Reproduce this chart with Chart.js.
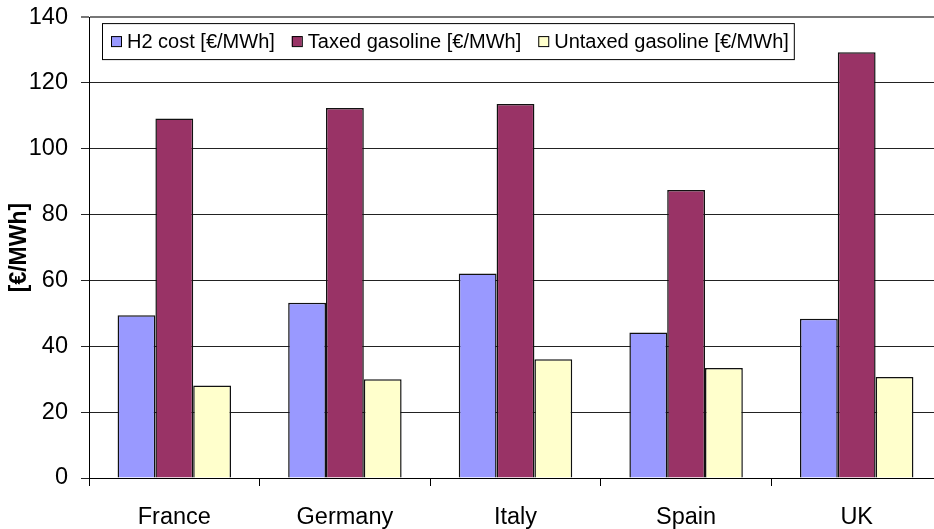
<!DOCTYPE html>
<html>
<head>
<meta charset="utf-8">
<script src="https://cdn.jsdelivr.net/npm/chart.js@4/dist/chart.umd.min.js"></script>
<style>
    html, body { margin: 0; padding: 0; background: #fff; overflow: hidden; }
    /* shifted up so the plot top sits where the original has it */
    #wrap { width: 942px; height: 539px; margin-top: -10px; position: relative; }
</style>
</head>
<body>
<div id="wrap"><canvas id="chartH2"></canvas></div>
<script>
const countries = ['France', 'Germany', 'Italy', 'Spain', 'UK'];
const h2Cost = [49.4, 53.2, 62.1, 44.2, 48.4];
const taxedGasoline = [109.2, 112.4, 113.6, 87.5, 129.3];
const untaxedGasoline = [28.1, 30.0, 36.1, 33.4, 30.7];
const seriesNames = ['H2 cost [€/MWh]', 'Taxed gasoline [€/MWh]', 'Untaxed gasoline [€/MWh]'];
const yTicks = [0, 20, 40, 60, 80, 100, 120, 140];

const colors = ['#9999ff', '#993366', '#ffffcc'];
const fontFamily = '"Liberation Sans", Arial, sans-serif';

// legend drawn inside the plot area, boxed like the original
const boxedLegend = {
    id: 'boxedLegend',
    afterDraw(chart) {
        const ctx = chart.ctx;
        const left = 102, top = chart.chartArea.top + 6, height = 36;
        const pad = 9, sw = 10, gap = 17;
        ctx.save();
        ctx.font = '20px ' + fontFamily;
        let width = pad;
        chart.data.datasets.forEach((ds, i) => {
            width += sw + 6 + ctx.measureText(ds.label).width + (i < chart.data.datasets.length - 1 ? gap : 0);
        });
        width += pad - 4;
        ctx.fillStyle = '#fff';
        ctx.fillRect(left, top, width, height);
        ctx.strokeStyle = '#000';
        ctx.lineWidth = 1;
        ctx.strokeRect(left + 0.5, top + 0.5, width, height);

        let x = left + pad;
        const cy = top + height / 2;
        ctx.textBaseline = 'middle';
        chart.data.datasets.forEach((ds) => {
            ctx.fillStyle = ds.backgroundColor;
            ctx.fillRect(x, cy - sw / 2, sw, sw);
            ctx.strokeStyle = '#000';
            ctx.strokeRect(x + 0.5, cy - sw / 2 + 0.5, sw, sw);
            ctx.fillStyle = '#000';
            ctx.fillText(ds.label, x + sw + 6, cy + 1);
            x += sw + 6 + ctx.measureText(ds.label).width + gap;
        });
        ctx.restore();
    }
};

const ctx = document.getElementById('chartH2').getContext('2d');

new Chart(ctx, {
    type: 'bar',
    data: {
        labels: countries,
        datasets: [h2Cost, taxedGasoline, untaxedGasoline].map((values, i) => ({
            label: seriesNames[i],
            data: values,
            backgroundColor: colors[i],
            borderColor: '#111',
            borderWidth: 1.5,
            categoryPercentage: 0.665,
            barPercentage: 1.0,
        })),
    },
    options: {
        responsive: true,
        maintainAspectRatio: false,
        animation: false,
        layout: { padding: { top: 8, right: 0, bottom: 0, left: 0 } },
        plugins: {
            legend: { display: false },
            tooltip: { enabled: false },
        },
        scales: {
            x: {
                grid: {
                    offset: true,
                    drawOnChartArea: false,
                    drawTicks: true,
                    tickLength: 8,
                    color: '#000',
                },
                border: { color: '#000', width: 1 },
                ticks: {
                    color: '#000',
                    padding: 17,
                    font: { family: fontFamily, size: 23.5 },
                },
                afterFit(scale) {
                    scale.height = 51;
                },
            },
            y: {
                min: 0,
                max: 140,
                afterBuildTicks(scale) {
                    scale.ticks = yTicks.map(v => ({ value: v }));
                },
                afterFit(scale) {
                    scale.width = 89;
                },
                grid: {
                    color: (c) => (c.tick && c.tick.value === 140 ? '#777' : '#222'),
                    lineWidth: (c) => (c.tick && c.tick.value === 140 ? 2 : 1),
                    tickLength: 8,
                },
                border: { color: '#000', width: 1 },
                ticks: {
                    color: '#000',
                    padding: 13,
                    font: { family: fontFamily, size: 23.5 },
                },
                title: {
                    display: true,
                    text: '[€/MWh]',
                    color: '#000',
                    padding: { top: 6, bottom: 0 },
                    font: { family: fontFamily, size: 23, weight: 'bold' },
                },
            },
        },
    },
    plugins: [boxedLegend],
});
</script>
</body>
</html>
